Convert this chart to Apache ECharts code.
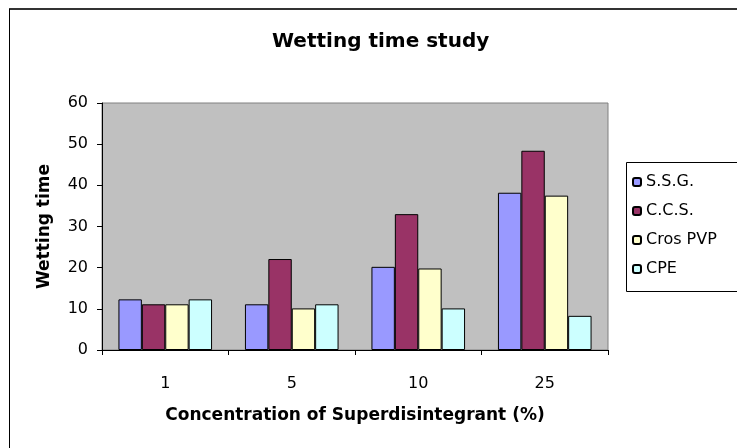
<!DOCTYPE html>
<html>
<head>
<meta charset="utf-8">
<script src="https://cdn.jsdelivr.net/npm/echarts@6/dist/echarts.min.js"></script>
<style>html,body{margin:0;padding:0;background:#fff;}#c{width:737px;height:448px;}</style>
</head>
<body>
<div id="c"></div>
<script>
const categories = ['1', '5', '10', '25'];
const seriesNames = ['S.S.G.', 'C.C.S.', 'Cros PVP', 'CPE'];
const ssg = [12.3, 11.1, 20.2, 38.2];
const ccs = [11.1, 22.1, 33.0, 48.4];
const crosPVP = [11.1, 10.1, 19.8, 37.5];
const cpe = [12.3, 11.1, 10.1, 8.3];
const yTicks = { min: 0, max: 60, interval: 10 };
const colors = ['#9999FF', '#993366', '#FFFFCC', '#CCFFFF'];
const values = [ssg, ccs, crosPVP, cpe];

const FONT = 'DejaVu Sans';
const chart = echarts.init(document.getElementById('c'), null, { renderer: 'canvas' });
chart.setOption({
  animation: false,
  backgroundColor: '#ffffff',
  title: {
    text: 'Wetting time study',
    left: 272, top: 32, padding: 0,
    textStyle: { fontFamily: FONT, fontSize: 20, fontWeight: 'bold', color: '#000' }
  },
  legend: {
    orient: 'vertical',
    left: 626, top: 162,
    padding: [12, 4, 13, 6],
    itemWidth: 8, itemHeight: 8, itemGap: 13,
    borderWidth: 0,
    z: 5,
    textStyle: { fontFamily: FONT, fontSize: 16, color: '#000', lineHeight: 16 },
    data: seriesNames
  },
  grid: {
    left: 102, right: 129, top: 103, bottom: 98,
    show: true, backgroundColor: '#C0C0C0', borderColor: '#808080', borderWidth: 1
  },
  xAxis: {
    type: 'category',
    data: categories,
    name: 'Concentration of Superdisintegrant (%)',
    nameLocation: 'middle',
    nameGap: 57,
    nameTextStyle: { fontFamily: FONT, fontSize: 17, fontWeight: 'bold', color: '#000' },
    axisLine: { lineStyle: { color: '#000', width: 1 } },
    axisTick: { show: true, length: 5, lineStyle: { color: '#000' } },
    axisLabel: { margin: 26, fontFamily: FONT, fontSize: 16, color: '#000' },
    splitLine: { show: false }
  },
  yAxis: {
    type: 'value',
    min: yTicks.min, max: yTicks.max, interval: yTicks.interval,
    name: 'Wetting time',
    nameLocation: 'middle',
    nameGap: 49,
    nameTextStyle: { fontFamily: FONT, fontSize: 17, fontWeight: 'bold', color: '#000' },
    axisLine: { show: true, lineStyle: { color: '#000', width: 1 } },
    axisTick: { show: true, length: 5, lineStyle: { color: '#000' } },
    axisLabel: { margin: 14, fontFamily: FONT, fontSize: 16, color: '#000' },
    splitLine: { show: false }
  },
  graphic: [
    { type: 'line', shape: { x1: 9, y1: 9, x2: 737, y2: 9 }, style: { stroke: '#333', lineWidth: 2 }, z: 100 },
    { type: 'line', shape: { x1: 9.5, y1: 9, x2: 9.5, y2: 448 }, style: { stroke: '#000', lineWidth: 1 }, z: 100 },
    { type: 'rect', shape: { x: 626.5, y: 162.5, width: 200, height: 129 }, style: { fill: '#fff', stroke: '#000', lineWidth: 1 }, z: 1 }
  ],
  series: seriesNames.map((n, i) => ({
    name: n,
    type: 'bar',
    data: values[i],
    barGap: '0%',
    barCategoryGap: '26%',
    itemStyle: { color: colors[i], borderColor: '#000', borderWidth: 1 }
  }))
});
</script>
</body>
</html>
